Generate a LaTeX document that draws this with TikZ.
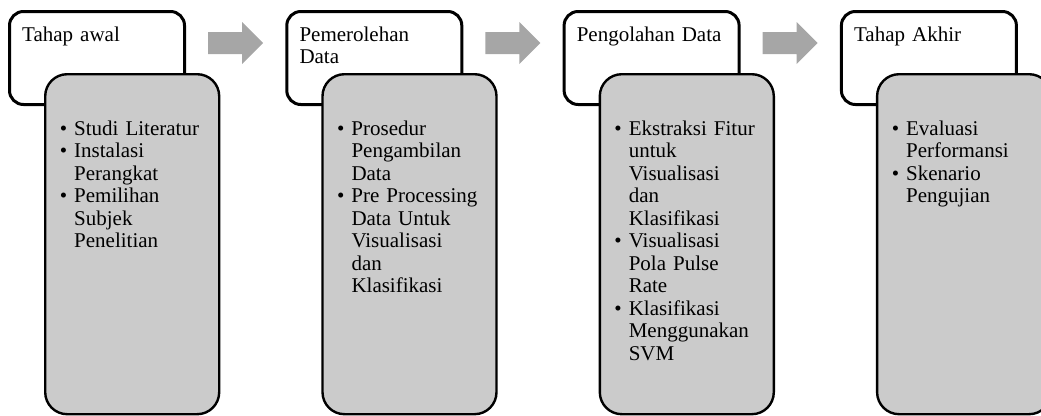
\documentclass[tikz,border=0pt]{standalone}
\usepackage{fontspec}
\setmainfont{Liberation Serif}
\definecolor{boxgrey}{HTML}{CBCBCB}
\definecolor{arrowgrey}{HTML}{A6A6A6}
\newcommand{\itm}{\leavevmode\llap{\textbullet\hspace{7pt}}}
\tikzset{
  titlebox/.style={draw=black, fill=white, line width=3pt, rounded corners=14pt,
    minimum width=175pt, minimum height=93pt, anchor=north west, inner sep=0pt},
  itembox/.style={draw=black, fill=boxgrey, line width=2.4pt, rounded corners=22pt,
    minimum width=174pt, minimum height=340pt, anchor=north west, inner sep=0pt},
  titletext/.style={anchor=base west, inner sep=0pt, text width=160pt, align=left,
    font=\fontsize{21}{22.5}\selectfont},
  itemtext/.style={anchor=base west, inner sep=0pt, text width=140pt, align=left,
    font=\fontsize{21}{22.5}\selectfont},
  blockarrow/.style={fill=arrowgrey, draw=none}
}
\begin{document}
\begin{tikzpicture}[x=1pt,y=-1pt]
\useasboundingbox (0,0) rectangle (1041,415);
\clip (0,0) rectangle (1041,415);
% panel 1
\node[titlebox] (w1) at (8,10) {};
\node[itembox] (g1) at (44,73) {};
\node[titletext] (t1) at (22,41) {Tahap awal};
\node[itemtext] (i1) at (74,135) {\itm Studi Literatur\\\itm Instalasi\\Perangkat\\\itm Pemilihan\\Subjek\\Penelitian};
% panel 2
\node[titlebox] (w2) at (285.3,10) {};
\node[itembox] (g2) at (321.3,73) {};
\node[titletext] (t2) at (299.3,41) {Pemerolehan\\Data};
\node[itemtext] (i2) at (351.3,135) {\itm Prosedur\\Pengambilan\\Data\\\itm Pre Processing\\Data Untuk\\Visualisasi\\dan\\Klasifikasi};
% panel 3
\node[titlebox] (w3) at (562.6,10) {};
\node[itembox] (g3) at (598.6,73) {};
\node[titletext] (t3) at (576.6,41) {Pengolahan Data};
\node[itemtext] (i3) at (628.6,135) {\itm Ekstraksi Fitur\\untuk\\Visualisasi\\dan\\Klasifikasi\\\itm Visualisasi\\Pola Pulse\\Rate\\\itm Klasifikasi\\Menggunakan\\SVM};
% panel 4
\node[titlebox] (w4) at (839.9,10) {};
\node[itembox] (g4) at (875.9,73) {};
\node[titletext] (t4) at (853.9,41) {Tahap Akhir};
\node[itemtext] (i4) at (905.9,135) {\itm Evaluasi\\Performansi\\\itm Skenario\\Pengujian};
% arrows
\foreach \L/\n in {8/a1, 285.3/a2, 562.6/a3}{
  \coordinate (\n) at (\L+200,43);
  \fill[blockarrow] (\n) ++(0,-11) -- ++(34,0) -- ++(0,-10) -- ++(21,21) -- ++(-21,21) -- ++(0,-10) -- ++(-34,0) -- cycle;
}
\end{tikzpicture}
\end{document}
